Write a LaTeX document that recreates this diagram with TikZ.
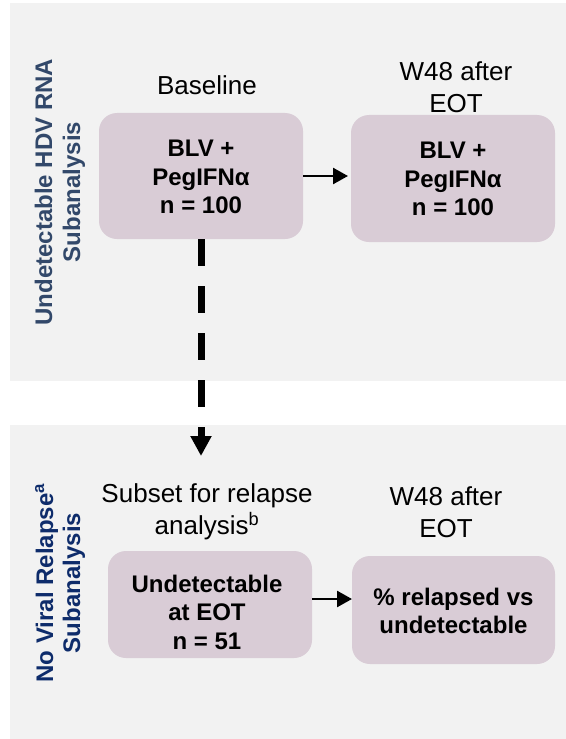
\documentclass[tikz,border=0pt]{standalone}
\usepackage{fontspec}
\setmainfont{Liberation Sans}
\usetikzlibrary{arrows.meta}

\definecolor{panelgrey}{RGB}{242,242,242}
\definecolor{boxmauve}{RGB}{217,204,214}
\definecolor{slatelabel}{RGB}{50,72,106}
\definecolor{navylabel}{RGB}{14,44,107}

\tikzset{
  panel/.style={fill=panelgrey, draw=none},
  stagebox/.style={fill=boxmauve, draw=none, rounded corners=18bp,
    inner sep=0pt, outer sep=0pt},
  boxtext/.style={align=center, inner sep=0pt,
    font=\fontsize{24bp}{28.5bp}\selectfont\bfseries},
  heading/.style={align=center, inner sep=0pt,
    font=\fontsize{26bp}{32bp}\selectfont},
  sidelabel/.style={rotate=90, anchor=base, inner sep=0pt,
    font=\fontsize{24bp}{28bp}\selectfont\bfseries},
  flowarrow/.style={line width=2.5bp, -{Triangle[length=15bp,width=16bp]}},
  linkarrow/.style={line width=7bp, dash pattern=on 26.5bp off 20.5bp,
    -{Triangle[length=20bp,width=20bp]}}
}

\begin{document}
\begin{tikzpicture}[x=1bp, y=-1bp]
  \useasboundingbox (0,0) rectangle (566,739);
  \fill[white] (0,0) rectangle (566,739);

  % panels
  \fill[panel] (10,3) rectangle (566,381);
  \fill[panel] (10,425) rectangle (566,739);

  % side labels
  \node[sidelabel, text=slatelabel] (s1a) at (52,192) {Undetectable HDV RNA};
  \node[sidelabel, text=slatelabel] (s1b) at (80,192) {Subanalysis};
  \node[sidelabel, text=navylabel] (s2a) at (53,583) {No Viral Relapse\textsuperscript{a}};
  \node[sidelabel, text=navylabel] (s2b) at (80,583) {Subanalysis};

  % upper panel
  \node[heading, anchor=base] (h1) at (207,94) {Baseline};
  \node[heading] (h2) at (456,87) {W48 after\\EOT};
  \node[stagebox, minimum width=204bp, minimum height=126bp] (b1) at (201,176) {};
  \node[stagebox, minimum width=204bp, minimum height=127bp] (b2) at (453,178.5) {};
  \node[boxtext] (t1) at (201,177) {BLV +\\PegIFNα\\n = 100};
  \node[boxtext] (t2) at (453,179) {BLV +\\PegIFNα\\n = 100};
  \draw[flowarrow, shorten >=3bp] (b1.east) -- (b1.east -| b2.west);

  % lower panel
  \node[heading] (h3) at (207,512) {Subset for relapse\\analysis\textsuperscript{b}};
  \node[heading] (h4) at (446,512) {W48 after\\EOT};
  \node[stagebox, minimum width=204bp, minimum height=107bp] (b3) at (210,604.5) {};
  \node[stagebox, minimum width=203bp, minimum height=108bp] (b4) at (453.5,610) {};
  \node[boxtext] (t3) at (207,612) {Undetectable\\at EOT\\n = 51};
  \node[boxtext] (t4) at (453.5,611) {\% relapsed vs\\undetectable};
  \draw[flowarrow] ([yshift=5.5bp]b3.east) -- ([yshift=5.5bp]b3.east -| b4.west);

  % link between the two subanalyses
  \coordinate (dtip) at (201,456);
  \draw[linkarrow] (b1.south) -- (dtip);
\end{tikzpicture}
\end{document}
